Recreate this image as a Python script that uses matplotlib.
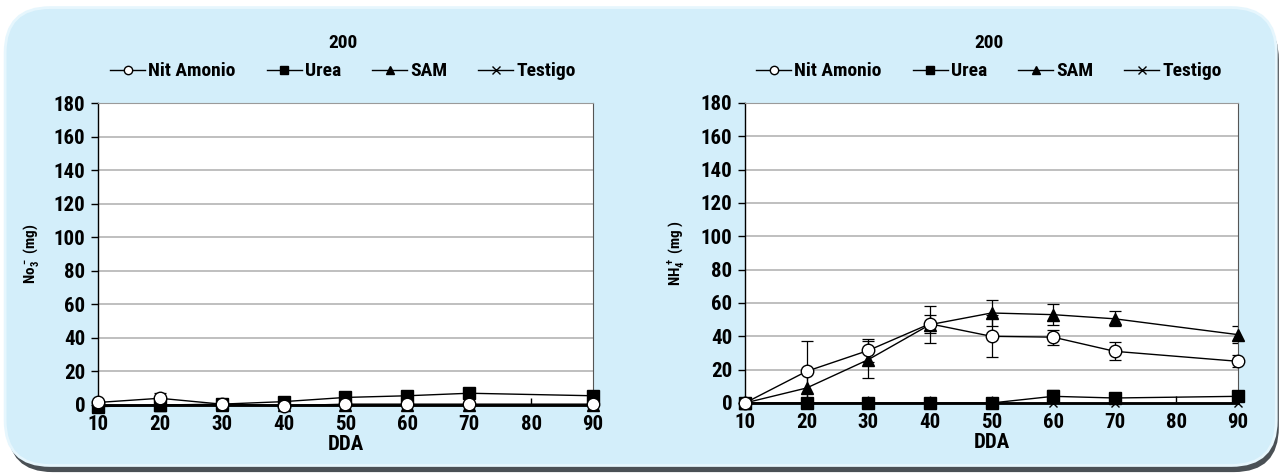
import matplotlib.pyplot as plt
from matplotlib.patches import FancyBboxPatch
from matplotlib import font_manager

# days after application
dda = [10, 20, 30, 40, 50, 60, 70, 90]
series = ["Nit Amonio", "Urea", "SAM", "Testigo"]

# NO3- (mg), left panel
no3_nit = [1.5, 4, 0.5, -0.5, 0.5, 0.5, 0.5, 0.5]
no3_nit_err = [1, 3, 0, 0, 0, 0, 1, 0]
no3_urea = [-1, 0, 0.5, 2, 4.5, 5.5, 7, 5.5]
no3_sam = [0, 0, 0, 0, 0, 0, 0, 0]
no3_testigo = [0, 0, 0, 0, 0, 0, 0, 0]

# NH4+ (mg), right panel
nh4_nit = [0, 19, 31.5, 47.5, 40, 39.5, 31, 25]
nh4_nit_err = [0, 18, 7, 5.5, 12.5, 4.5, 5.5, 3.5]
nh4_urea = [0, 0, 0, 0, 0, 4, 3, 4]
nh4_urea_err = [0, 0, 0, 0, 0, 4, 0, 0]
nh4_sam = [0, 9, 26, 47, 54, 53, 50.5, 41]
nh4_sam_err = [0, 9, 11, 11, 8, 6.5, 4.5, 5]
nh4_testigo = [0, 0, 0, 0, 0, 0, 0, 0]

yticks = list(range(0, 181, 20))
xticks = [10, 20, 30, 40, 50, 60, 70, 80, 90]

# narrow bold font if there is one
names = {f.name for f in font_manager.fontManager.ttflist}
fam = "Liberation Sans"
for cand in ["Liberation Sans Narrow", "Roboto Condensed", "DejaVu Sans Condensed", "Liberation Sans"]:
    if cand in names:
        fam = cand
        break
plt.rcParams["font.family"] = [fam, "DejaVu Sans"]
plt.rcParams["font.weight"] = "bold"
plt.rcParams["mathtext.fontset"] = "custom"
plt.rcParams["mathtext.rm"] = fam + ":bold"
plt.rcParams["mathtext.default"] = "rm"

fig = plt.figure(figsize=(12.84, 4.74), dpi=100)
fig.patch.set_facecolor("white")

# shadow + rounded panel
shadow = FancyBboxPatch((0.006, 0.004), 0.99, 0.965, boxstyle="round,pad=0,rounding_size=0.035",
                        transform=fig.transFigure, facecolor="#4a5055", edgecolor="none", zorder=-3,
                        mutation_aspect=1284 / 474)
panel = FancyBboxPatch((0.004, 0.018), 0.99, 0.966, boxstyle="round,pad=0,rounding_size=0.035",
                       transform=fig.transFigure, facecolor="#d3eefa", edgecolor="#e6f6fd",
                       linewidth=2, zorder=-2, mutation_aspect=1284 / 474)
fig.patches.extend([shadow, panel])

FS = 15


def draw(ax, vals, errs, ylabel):
    nit, urea, sam, test = vals
    kw = dict(color="black", linewidth=1, clip_on=False)
    ax.plot(dda, test, marker="x", markersize=6, markeredgewidth=1, label="Testigo", zorder=3, **kw)
    ax.plot(dda, urea, marker="s", markersize=8, markerfacecolor="black", label="Urea", zorder=4, **kw)
    ax.plot(dda, sam, marker="^", markersize=8, markerfacecolor="black", label="SAM", zorder=5, **kw)
    ax.plot(dda, nit, marker="o", markersize=9, markerfacecolor="white", markeredgewidth=1,
            label="Nit Amonio", zorder=6, **kw)
    for y, e in errs:
        ax.errorbar(dda, y, yerr=e, fmt="none", ecolor="black", elinewidth=0.9, capsize=4,
                    capthick=0.9, zorder=2)
    ax.set_xlim(10, 90)
    ax.set_ylim(0, 180)
    ax.set_xticks(xticks)
    ax.set_yticks(yticks)
    ax.set_facecolor("white")
    ax.grid(axis="y", color="#b4b4b4", linewidth=1.2)
    ax.set_axisbelow(True)
    ax.tick_params(axis="y", direction="out", length=5, width=1, labelsize=FS, pad=4)
    ax.tick_params(axis="x", direction="in", length=5, width=1, labelsize=FS, pad=7)
    for lab in ax.get_xticklabels() + ax.get_yticklabels():
        lab.set_fontweight("bold")
    ax.spines["left"].set_linewidth(1)
    ax.spines["bottom"].set_linewidth(2)
    ax.spines["top"].set_color("#9a9a9a")
    ax.spines["right"].set_color("#555555")
    ax.set_xlabel("DDA", fontsize=FS, fontweight="bold", labelpad=1)
    ax.set_ylabel(ylabel, fontsize=11, fontweight="bold", labelpad=9)
    ax.text(0.495, 1.2, "200", transform=ax.transAxes, ha="center", va="center",
            fontsize=14, fontweight="bold")
    h, l = ax.get_legend_handles_labels()
    order = [3, 1, 2, 0]
    leg = ax.legend([h[i] for i in order], [l[i] for i in order], ncol=4, loc="center",
                    bbox_to_anchor=(0.495, 1.105), frameon=False, handlelength=1.8, handletextpad=0.15,
                    columnspacing=1.6, prop=dict(size=14, weight="bold"), borderaxespad=0)
    for lh in leg.legend_handles:
        lh.set_markersize(6)


ax1 = fig.add_axes([0.0763, 0.1456, 0.3855, 0.637])
draw(ax1, (no3_nit, no3_urea, no3_sam, no3_testigo), [(no3_nit, no3_nit_err)], r"No$_3^-$ (mg)")

ax2 = fig.add_axes([0.5802, 0.1498, 0.3840, 0.633])
draw(ax2, (nh4_nit, nh4_urea, nh4_sam, nh4_testigo),
     [(nh4_nit, nh4_nit_err), (nh4_sam, nh4_sam_err), (nh4_urea, nh4_urea_err)], r"NH$_4^+$ (mg )")

fig.savefig("out.png", dpi=100, facecolor=fig.get_facecolor())
